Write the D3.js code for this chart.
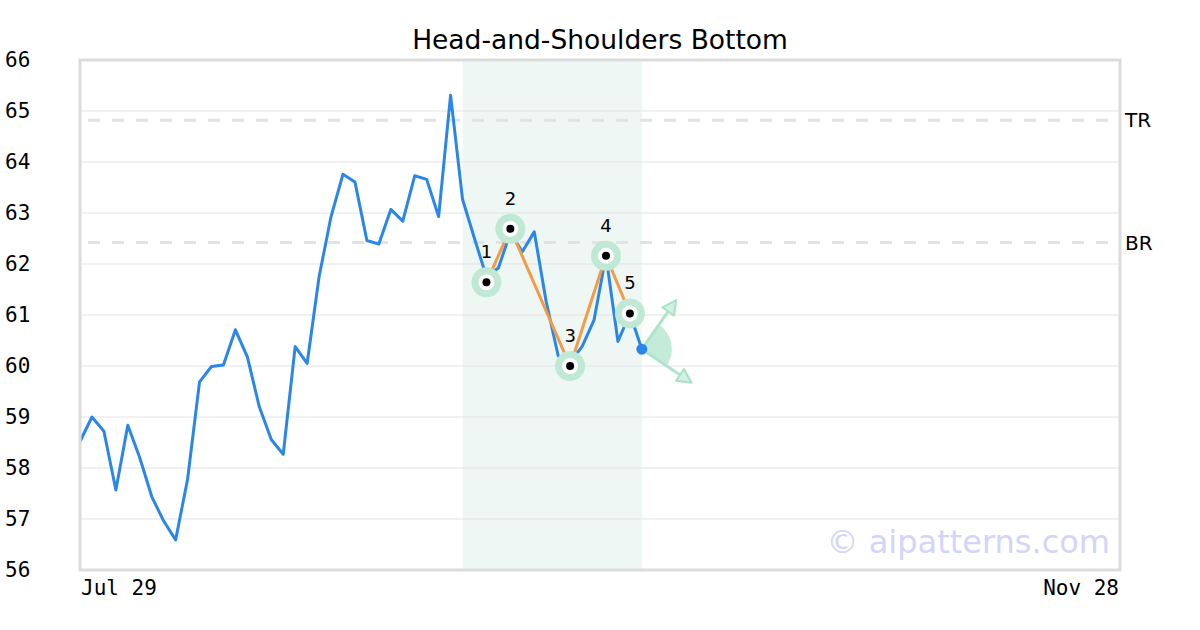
<!DOCTYPE html>
<html lang="en">
<head>
  <meta charset="UTF-8" />
  <title>Head-and-Shoulders Bottom</title>
  <script src="https://d3js.org/d3.v7.min.js"></script>
  <style>
    body { margin: 0; background: #fff; }
    svg { display: block; }
    .mono { font-family: "DejaVu Sans Mono", monospace; }
    .sans { font-family: "DejaVu Sans", sans-serif; }
  </style>
</head>
<body>
<script>
  // price closes, one per trading day (index 0 = Jul 29)
  var prices = [58.52, 59.0, 58.72, 57.57, 58.84, 58.2, 57.44, 56.96, 56.59, 57.78,
    59.69, 59.99, 60.02, 60.71, 60.18, 59.2, 58.56, 58.27, 60.38, 60.05,
    61.75, 62.93, 63.76, 63.61, 62.46, 62.39, 63.07, 62.84, 63.73, 63.66,
    62.93, 65.31, 63.27, 62.5, 61.75, 61.92, 62.62, 62.24, 62.63, 61.26,
    60.2, 60.08, 60.38, 60.9, 62.16, 60.48, 61.03, 60.33];
  var totalDays = 88;
  var xLabels = ["Jul 29", "Nov 28"];
  var yTicks = [56, 57, 58, 59, 60, 61, 62, 63, 64, 65, 66];

  // pattern pivots
  var pivotIdx = [34, 36, 41, 44, 46];
  var pivotVal = [61.64, 62.69, 60.0, 62.16, 61.03];
  var pivotLabel = ["1", "2", "3", "4", "5"];

  var levelNames = ["TR", "BR"];
  var levelValues = [64.82, 62.42];
  var shadeRange = [32, 47];

  var W = 1200, H = 630;
  var margin = { top: 60, right: 80, bottom: 60, left: 80 };
  var width = W - margin.left - margin.right;
  var height = H - margin.top - margin.bottom;

  var x = d3.scaleLinear().domain([0, totalDays - 1]).range([0, width]);
  var y = d3.scaleLinear().domain([56, 66]).range([height, 0]);

  var svg = d3.select("body").append("svg").attr("width", W).attr("height", H);

  svg.append("text").attr("class", "sans")
    .attr("x", W / 2).attr("y", 49)
    .attr("text-anchor", "middle")
    .style("font-size", "26.5px")
    .text("Head-and-Shoulders Bottom");

  var g = svg.append("g").attr("transform", "translate(" + margin.left + "," + margin.top + ")");

  // shaded pattern zone
  g.append("rect")
    .attr("x", x(shadeRange[0])).attr("y", 0)
    .attr("width", x(shadeRange[1]) - x(shadeRange[0]))
    .attr("height", height)
    .attr("fill", "#eef7f3");

  // grid
  g.selectAll(".grid").data(yTicks.slice(1, -1)).enter().append("line")
    .attr("x1", 0).attr("x2", width)
    .attr("y1", function (d) { return y(d); }).attr("y2", function (d) { return y(d); })
    .attr("stroke", "#e3e3e3").attr("stroke-width", 1);

  // y tick labels
  svg.selectAll(".ytick").data(yTicks).enter().append("text")
    .attr("class", "mono")
    .attr("x", 5).attr("y", function (d) { return margin.top + y(d) + 7; })
    .style("font-size", "21px")
    .text(function (d) { return d; });

  // x labels
  svg.append("text").attr("class", "mono")
    .attr("x", margin.left + x(0) + 1).attr("y", 595)
    .style("font-size", "21px").text(xLabels[0]);
  svg.append("text").attr("class", "mono")
    .attr("x", margin.left + x(totalDays - 1) - 1).attr("y", 595)
    .attr("text-anchor", "end")
    .style("font-size", "21px").text(xLabels[1]);

  // resistance levels
  levelValues.forEach(function (v, i) {
    g.append("line")
      .attr("x1", 0).attr("x2", width)
      .attr("y1", y(v)).attr("y2", y(v))
      .attr("stroke", "#e2e2e2").attr("stroke-width", 3)
      .attr("stroke-dasharray", "12,12").attr("stroke-dashoffset", -8);
    svg.append("text").attr("class", "sans")
      .attr("x", margin.left + width + 5).attr("y", margin.top + y(v) + 7)
      .style("font-size", "20px").text(levelNames[i]);
  });

  // watermark
  g.append("text").attr("class", "sans")
    .attr("x", width - 10).attr("y", height - 17)
    .attr("text-anchor", "end")
    .style("font-size", "32px")
    .attr("fill", "#d4d4fb")
    .text("\u00a9 aipatterns.com");

  // price line
  var line = d3.line()
    .x(function (d, i) { return x(i); })
    .y(function (d) { return y(d); });
  g.append("path").datum(prices)
    .attr("fill", "none").attr("stroke", "#2a86e8")
    .attr("stroke-width", 3).attr("stroke-linejoin", "round")
    .attr("d", line);

  // pattern line
  var pivots = pivotIdx.map(function (d, i) { return { i: d, v: pivotVal[i], l: pivotLabel[i] }; });
  g.append("path").datum(pivots)
    .attr("fill", "none").attr("stroke", "#f59a45").attr("stroke-width", 3)
    .attr("d", d3.line().x(function (d) { return x(d.i); }).y(function (d) { return y(d.v); }));

  // projection wedge + arrows
  var last = prices.length - 1;
  var px = x(last), py = y(prices[last]);
  var proj = g.append("g").attr("transform", "translate(" + px + "," + py + ")");
  var a1 = -55 * Math.PI / 180, a2 = 34 * Math.PI / 180;
  proj.append("path")
    .attr("d", d3.arc().innerRadius(0).outerRadius(30).startAngle(Math.PI / 2 + a1).endAngle(Math.PI / 2 + a2))
    .attr("fill", "#b8e8d1").attr("opacity", 0.85);
  [a1, a2].forEach(function (a) {
    var len = 60;
    var ag = proj.append("g").attr("transform", "rotate(" + (a * 180 / Math.PI) + ")");
    ag.append("line").attr("x1", 0).attr("y1", 0).attr("x2", len - 10).attr("y2", 0)
      .attr("stroke", "#aee4cb").attr("stroke-width", 3);
    ag.append("path")
      .attr("d", "M" + len + ",0 L" + (len - 14) + ",-7 L" + (len - 14) + ",7 Z")
      .attr("fill", "#d3f1e3").attr("stroke", "#a8e2c6").attr("stroke-width", 2)
      .attr("stroke-linejoin", "round");
  });

  // pivot markers
  var pm = g.selectAll(".pivot").data(pivots).enter().append("g")
    .attr("transform", function (d) { return "translate(" + x(d.i) + "," + y(d.v) + ")"; });
  pm.append("circle").attr("r", 15).attr("fill", "#bfe9d4");
  pm.append("circle").attr("r", 8).attr("fill", "#fff");
  pm.append("circle").attr("r", 4).attr("fill", "#000");
  pm.append("text").attr("class", "sans")
    .attr("y", -24).attr("text-anchor", "middle")
    .style("font-size", "18px").text(function (d) { return d.l; });

  // last close dot
  g.append("circle").attr("cx", px).attr("cy", py).attr("r", 5.5).attr("fill", "#2a86e8");

  // frame
  g.append("rect").attr("x", 0).attr("y", 0).attr("width", width).attr("height", height)
    .attr("fill", "none").attr("stroke", "#dcdcdc").attr("stroke-width", 3);
</script>
</body>
</html>
